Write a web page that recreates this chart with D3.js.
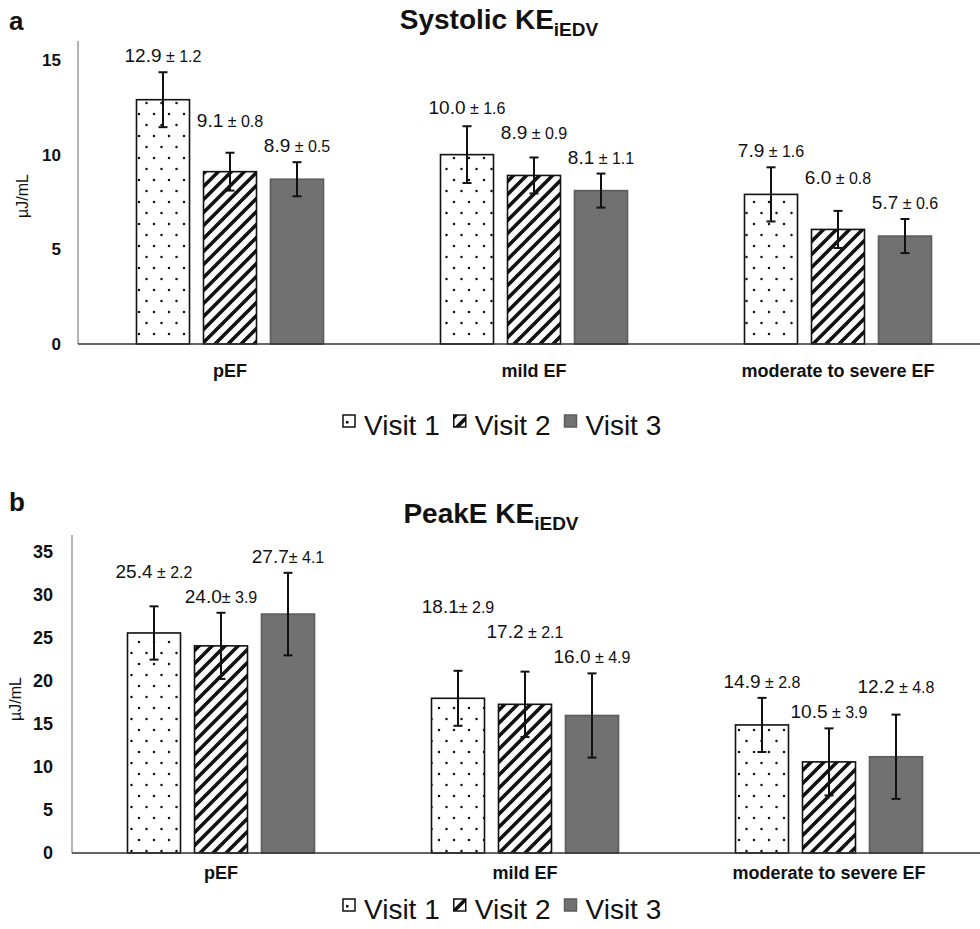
<!DOCTYPE html>
<html>
<head>
<meta charset="utf-8">
<script src="https://cdn.jsdelivr.net/npm/d3@7"></script>
<style>
  body { margin: 0; background: #fff; }
  text { font-family: "Liberation Sans", Arial, sans-serif; fill: #111; }
</style>
</head>
<body>
<script>
var categories = ["pEF", "mild EF", "moderate to severe EF"]
var visits = ["Visit 1", "Visit 2", "Visit 3"]

// panel a: systolic KE (bar heights / error half-lengths)
var sysMean = [[12.9, 9.1, 8.7], [10.0, 8.9, 8.1], [7.9, 6.05, 5.7]]
var sysErr = [[1.45, 1.0, 0.9], [1.5, 0.95, 0.9], [1.43, 0.98, 0.9]]
var sysLabel = [["12.9", "9.1", "8.9"], ["10.0", "8.9", "8.1"], ["7.9", "6.0", "5.7"]]
var sysLabelErr = [[" ± 1.2", " ± 0.8", " ± 0.5"], [" ± 1.6", " ± 0.9", " ± 1.1"], [" ± 1.6", " ± 0.8", " ± 0.6"]]
var sysTicks = [0, 5, 10, 15]

// panel b: peak E KE
var peakMean = [[25.6, 24.1, 27.8], [18.0, 17.3, 16.0], [14.9, 10.6, 11.2]]
var peakErr = [[3.1, 3.85, 4.8], [3.2, 3.8, 4.9], [3.15, 3.9, 4.9]]
var peakLabel = [["25.4", "24.0", "27.7"], ["18.1", "17.2", "16.0"], ["14.9", "10.5", "12.2"]]
var peakLabelErr = [[" ± 2.2", "± 3.9", "± 4.1"], ["± 2.9", " ± 2.1", " ± 4.9"], [" ± 2.8", " ± 3.9", " ± 4.8"]]
var peakTicks = [0, 5, 10, 15, 20, 25, 30, 35]

var W = 980, H = 929

var svg = d3.select("body").append("svg")
    .attr("width", W)
    .attr("height", H)

var defs = svg.append("defs")

// dotted fill for visit 1
var dots = defs.append("pattern")
    .attr("id", "dots")
    .attr("patternUnits", "userSpaceOnUse")
    .attr("width", 15).attr("height", 22)
dots.append("rect").attr("width", 15).attr("height", 22).attr("fill", "#fff")
dots.append("circle").attr("cx", 4).attr("cy", 4).attr("r", 1.25).attr("fill", "#111")
dots.append("circle").attr("cx", 11.5).attr("cy", 15).attr("r", 1.25).attr("fill", "#111")

// hatched fill for visit 2
var hatch = defs.append("pattern")
    .attr("id", "hatch")
    .attr("patternUnits", "userSpaceOnUse")
    .attr("width", 13).attr("height", 13)
hatch.append("rect").attr("width", 13).attr("height", 13).attr("fill", "#fff")
hatch.append("path")
    .attr("d", "M-2,2 L2,-2 M0,13 L13,0 M11,15 L15,11")
    .attr("stroke", "#111")
    .attr("stroke-width", 3.6)

var fills = ["url(#dots)", "url(#hatch)", "#717171"]
var strokes = ["#111", "#111", "#5c5c5c"]

function drawPanel(p) {
  var g = svg.append("g")

  var y = d3.scaleLinear().domain([0, p.yMax]).range([p.base, p.top])
  var x0 = d3.scaleBand().domain(categories).range([p.left - p.shift, p.left - p.shift + 912])
  var x1 = d3.scaleBand().domain(visits).range([-93.5, 93.5]).paddingInner(0.209)

  // panel letter and title
  g.append("text")
      .attr("x", 9).attr("y", p.letterY)
      .style("font-size", "26px").style("font-weight", "bold")
      .text(p.letter)

  var t = g.append("text")
      .attr("x", p.titleX).attr("y", p.titleY)
      .attr("text-anchor", "middle")
      .style("font-size", "28px").style("font-weight", "bold")
  t.append("tspan").text(p.title)
  t.append("tspan").attr("dy", 7).style("font-size", "19px").text("iEDV")

  // y axis
  var ay = g.append("g")
      .attr("transform", "translate(" + p.left + ",0)")
      .call(d3.axisLeft(y).tickValues(p.ticks).tickSize(0).tickPadding(p.tickPad))
  ay.select(".domain").remove()
  ay.selectAll("text")
      .style("font-size", p.tickSize).style("font-weight", "bold")
      .style("font-family", "Liberation Sans, Arial, sans-serif")
      .attr("fill", "#111")
  g.append("line")
      .attr("x1", p.left).attr("x2", p.left)
      .attr("y1", y(0)).attr("y2", p.top)
      .attr("stroke", "#8a8a8a").attr("stroke-width", 1.3)

  g.append("text")
      .attr("transform", "translate(" + p.unitX + "," + p.unitY + ") rotate(-90)")
      .attr("text-anchor", "middle")
      .style("font-size", "16px")
      .text("µJ/mL")

  var labels = []

  // bars
  categories.forEach(function(c, i) {
    var cx = x0(c) + x0.bandwidth() / 2
    visits.forEach(function(v, j) {
      var val = p.mean[i][j], err = p.err[i][j]
      var bx = cx + x1(v)
      var mid = bx + x1.bandwidth() / 2
      g.append("rect")
          .attr("x", bx).attr("y", y(val))
          .attr("width", x1.bandwidth())
          .attr("height", y(0) - y(val))
          .attr("fill", fills[j])
          .attr("stroke", strokes[j])
          .attr("stroke-width", 1.6)

      // error bar
      g.append("line")
          .attr("x1", mid).attr("x2", mid)
          .attr("y1", y(val - err)).attr("y2", y(val + err))
          .attr("stroke", "#111").attr("stroke-width", 2)
      ;[val - err, val + err].forEach(function(e) {
        g.append("line")
            .attr("x1", mid - 4.5).attr("x2", mid + 4.5)
            .attr("y1", y(e)).attr("y2", y(e))
            .attr("stroke", "#111").attr("stroke-width", 2)
      })

      var lab = g.append("text")
          .attr("x", mid)
          .attr("text-anchor", "middle")
          .style("font-size", "19px")
      lab.append("tspan").text(p.label[i][j])
      lab.append("tspan").style("font-size", "16px").text(p.labelErr[i][j])
      labels.push({ el: lab, x: mid, top: y(val + err), w: lab.node().getComputedTextLength() })
    })

    g.append("text")
        .attr("x", cx).attr("y", p.catY)
        .attr("text-anchor", "middle")
        .style("font-size", "18px").style("font-weight", "bold")
        .text(c)
  })

  // place value labels above the error bars, lowest first,
  // stepping a label up when it runs into one already placed
  var placed = []
  labels.slice().sort(function(a, b) { return b.top - a.top }).forEach(function(l) {
    l.y = l.top - 10
    var moved = true
    while (moved) {
      moved = false
      placed.forEach(function(o) {
        if (Math.abs(o.x - l.x) < (o.w + l.w) / 2 + 6 && Math.abs(o.y - l.y) < 24) {
          l.y = o.y - 25
          moved = true
        }
      })
    }
    placed.push(l)
    l.el.attr("y", l.y)
  })

  // baseline
  g.append("line")
      .attr("x1", p.left).attr("x2", W)
      .attr("y1", y(0)).attr("y2", y(0))
      .attr("stroke", "#333").attr("stroke-width", 1.6)

  // legend
  var lx = 343
  visits.forEach(function(v, j) {
    g.append("rect")
        .attr("x", lx).attr("y", p.legY - 20)
        .attr("width", 12).attr("height", 12)
        .attr("fill", j == 0 ? "#fff" : fills[j])
        .attr("stroke", j == 2 ? "#5c5c5c" : "#111")
        .attr("stroke-width", 1.5)
    if (j == 0) {
      g.append("rect").attr("x", lx + 3).attr("y", p.legY - 14)
          .attr("width", 2.5).attr("height", 2.5).attr("fill", "#111")
    }
    var lt = g.append("text")
        .attr("x", lx + 21).attr("y", p.legY)
        .style("font-size", "28px")
        .text(v)
    lx += 21 + lt.node().getComputedTextLength() + 14
  })
}

drawPanel({
  letter: "a", letterY: 30, title: "Systolic KE", titleX: 499, titleY: 29,
  mean: sysMean, err: sysErr, label: sysLabel, labelErr: sysLabelErr,
  ticks: sysTicks, yMax: 16, base: 344, top: 41, tickSize: "17px", tickPad: 17,
  left: 78, shift: 0, unitX: 28, unitY: 196,
  catY: 377, legY: 435
})

drawPanel({
  letter: "b", letterY: 511, title: "PeakE KE", titleX: 491, titleY: 523,
  mean: peakMean, err: peakErr, label: peakLabel, labelErr: peakLabelErr,
  ticks: peakTicks, yMax: 37, base: 853, top: 535, tickSize: "18px", tickPad: 19,
  left: 72, shift: 3, unitX: 21, unitY: 699,
  catY: 879, legY: 919
})
</script>
</body>
</html>
